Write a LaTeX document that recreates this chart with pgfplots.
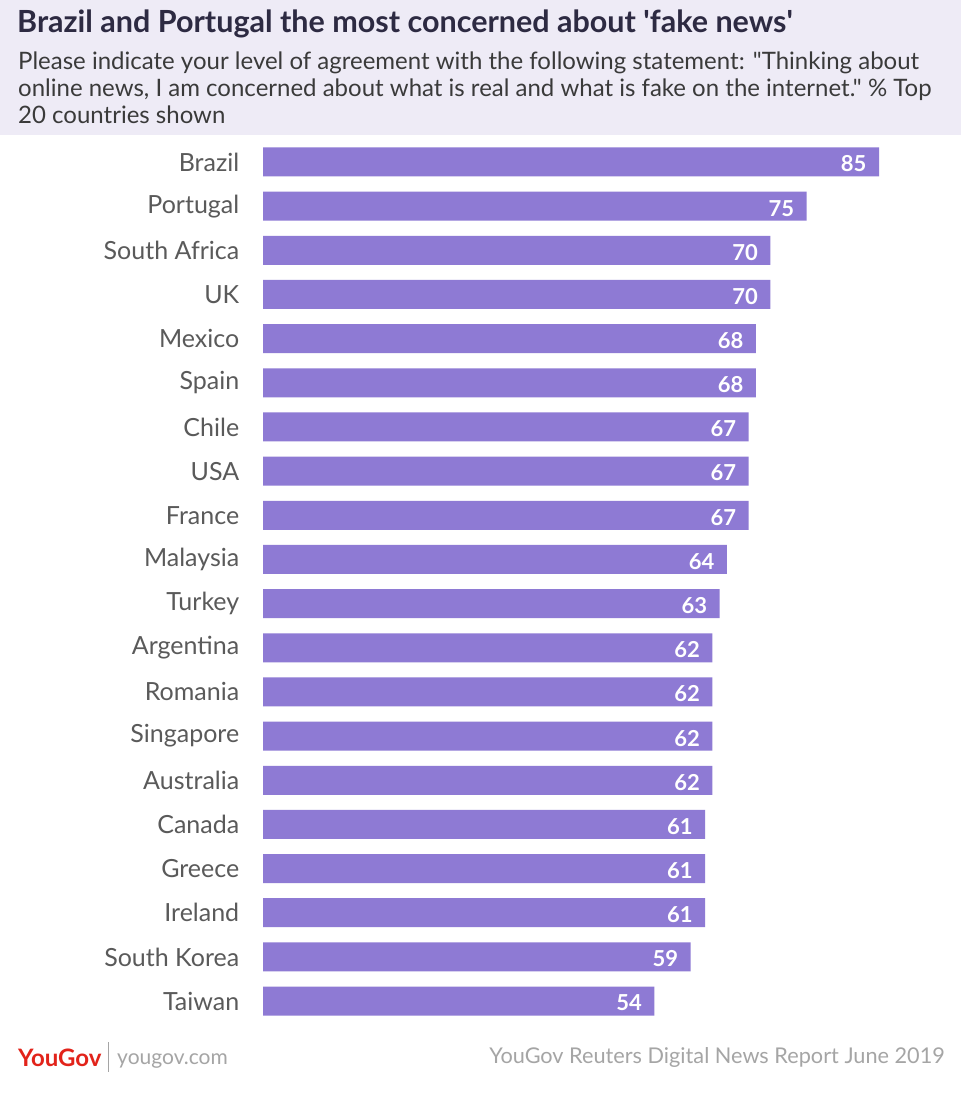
\documentclass[border=0pt]{standalone}
\usepackage{fontspec}
\setmainfont{Lato}[Ligatures=TeXOff]
\usepackage{pgfplots}
\pgfplotsset{compat=1.18}
\definecolor{barc}{HTML}{8E7AD4}
\definecolor{hdr}{HTML}{EEEBF6}
\definecolor{ttl}{HTML}{2D2A42}
\definecolor{subc}{HTML}{3A3A3A}
\definecolor{lbl}{HTML}{5A5A5A}
\definecolor{ft}{HTML}{A5A5A5}
\definecolor{yg}{HTML}{E2231A}
\begin{document}
\begin{tikzpicture}[x=1bp,y=1bp]
\fill[white] (0,0) rectangle (961,-1097);
\fill[hdr] (0,0) rectangle (961,-135);
\node[anchor=base west, inner sep=0, text=ttl, font=\fontsize{30.5bp}{32bp}\selectfont\bfseries] at (17,-32) {Brazil and Portugal the most concerned about 'fake news'};
\node[anchor=base west, inner sep=0, text=subc, font=\fontsize{24bp}{26bp}\selectfont] at (18,-69) {Please indicate your level of agreement with the following statement: "Thinking about};
\node[anchor=base west, inner sep=0, text=subc, font=\fontsize{24bp}{26bp}\selectfont] at (18,-96) {online news, I am concerned about what is real and what is fake on the internet." \% Top};
\node[anchor=base west, inner sep=0, text=subc, font=\fontsize{24bp}{26bp}\selectfont] at (18,-123) {20 countries shown};
\begin{axis}[at={(263bp,-139.9bp)}, anchor=north west, scale only axis,
  width=616bp, height=883.2bp,
  xmin=0, xmax=85, ymin=-0.5, ymax=19.5, y dir=reverse,
  xbar, bar width=29bp, bar shift=0pt,
  axis line style={draw=none}, tick style={draw=none},
  xtick=\empty, ytick={0,...,19},
  yticklabels={Brazil,Portugal,South Africa,UK,Mexico,Spain,Chile,USA,France,Malaysia,Turkey,Argentina,Romania,Singapore,Australia,Canada,Greece,Ireland,South Korea,Taiwan},
  yticklabel style={font=\fontsize{25bp}{26bp}\selectfont, text=lbl, xshift=-16bp},
  point meta=x,
  nodes near coords,
  nodes near coords style={anchor=east, text=white, font=\fontsize{22bp}{24bp}\selectfont\bfseries, xshift=-9bp, yshift=-2bp, /pgf/number format/assume math mode=true},
  clip=false]
\addplot[fill=barc, draw=none] coordinates {(85,0) (75,1) (70,2) (70,3) (68,4) (68,5) (67,6) (67,7) (67,8) (64,9) (63,10) (62,11) (62,12) (62,13) (62,14) (61,15) (61,16) (61,17) (59,18) (54,19)};
\end{axis}
\node[anchor=base west, inner sep=0, text=yg, font=\fontsize{24bp}{26bp}\selectfont\bfseries] at (18,-1066) {YouGov};
\draw[ft, line width=1bp] (108,-1042) -- (108,-1072);
\node[anchor=base west, inner sep=0, text=ft, font=\fontsize{21bp}{24bp}\selectfont] at (117,-1064) {yougov.com};
\node[anchor=base east, inner sep=0, text=ft, font=\fontsize{21.7bp}{24bp}\selectfont] at (945,-1063) {YouGov Reuters Digital News Report June 2019};
\end{tikzpicture}
\end{document}
